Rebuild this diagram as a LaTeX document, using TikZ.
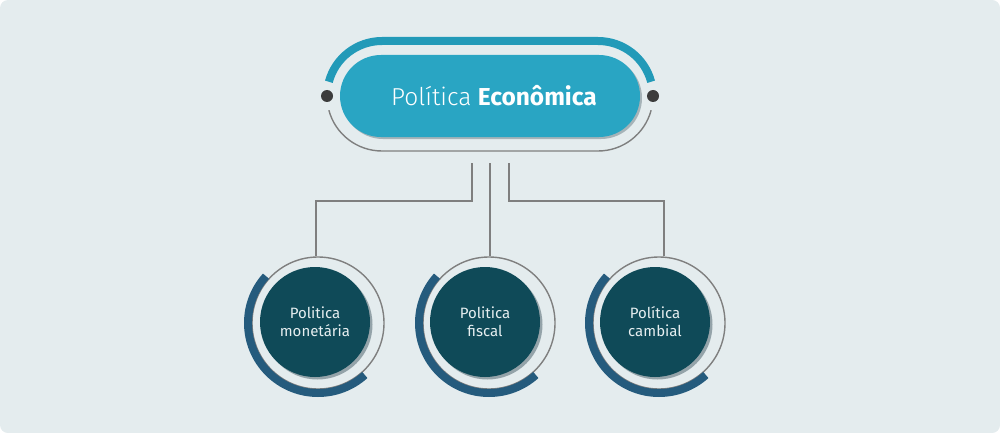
\documentclass[tikz,border=0pt]{standalone}
\usepackage{fontspec}
\setmainfont{Fira Sans}
\newfontfamily\lightfont{Fira Sans Light}
\usetikzlibrary{shapes.misc,shadows}
\definecolor{bgc}{HTML}{E4ECEE}
\definecolor{pillc}{HTML}{29A5C3}
\definecolor{arcc}{HTML}{229AB8}
\definecolor{discc}{HTML}{0F4A58}
\definecolor{bluec}{HTML}{255B7D}
\definecolor{linec}{HTML}{7F7F7F}
\definecolor{dotc}{HTML}{3C3C3C}
\definecolor{shadc}{HTML}{8C9CA2}
\definecolor{txtc}{HTML}{E6EEF0}
\tikzset{
  pillbox/.style={rounded rectangle, fill=pillc, minimum width=300pt, minimum height=82pt, inner sep=0pt,
    text=white, font=\fontsize{24.5}{28}\selectfont,
    drop shadow={shadow xshift=2pt, shadow yshift=-2pt, fill=shadc, opacity=.7}},
  dotnode/.style={circle, fill=dotc, minimum size=12pt, inner sep=0pt},
  ringnode/.style={circle, draw=linec, line width=1.4pt, minimum size=132pt, inner sep=0pt},
  discnode/.style={circle, fill=discc, minimum size=110pt, inner sep=0pt, text=txtc, align=center,
    font=\fontsize{15}{18}\selectfont,
    drop shadow={shadow xshift=2.5pt, shadow yshift=-2.5pt, fill=shadc, opacity=.9}},
  conn/.style={draw=linec, line width=1.4pt},
  bluearc/.style={draw=bluec, line width=8pt},
  tealarc/.style={draw=arcc, line width=8pt},
}
\begin{document}
\begin{tikzpicture}[x=1pt,y=-1pt]
\useasboundingbox (0,0) rectangle (1000,433);
\fill[bgc, rounded corners=8pt] (0,0) rectangle (1000,433);

% outer stadium
\draw[tealarc] (382,96) ++(165:55pt) arc[start angle=165,end angle=90,radius=55pt]
  -- (598,41) arc[start angle=90,end angle=15,radius=55pt];
\draw[conn] (382,96) ++(195:55pt) arc[start angle=195,end angle=270,radius=55pt]
  -- (598,151) arc[start angle=270,end angle=345,radius=55pt];
\node[dotnode] (dl) at (327,96) {};
\node[dotnode] (dr) at (653,96) {};

% title pill
\node[pillbox] (eco) at (490,96) {\hspace{8pt}{\lightfont Política} \textbf{Econômica}};

% rings
\node[ringnode] (r1) at (318,323) {};
\node[ringnode] (r2) at (489,323) {};
\node[ringnode] (r3) at (659,323) {};
\foreach \r in {r1,r2,r3}{
  \draw[bluearc] (\r.center) ++(138:70pt) arc[start angle=138,end angle=312,radius=70pt];
}

% discs
\node[discnode] (c1) at (315,322) {Politica\\monetária};
\node[discnode] (c2) at (485,322) {Politica\\fiscal};
\node[discnode] (c3) at (655,322) {Política\\cambial};

% connectors
\coordinate (s1) at (472,163);
\coordinate (s2) at (490,163);
\coordinate (s3) at (509,163);
\coordinate (h1) at (316,201);
\coordinate (h3) at (664,201);
\draw[conn] (s1) |- (h1) -- (h1 |- r1.north);
\draw[conn] (s2) -- (s2 |- r2.north);
\draw[conn] (s3) |- (h3) -- (h3 |- r3.north);
\end{tikzpicture}
\end{document}
